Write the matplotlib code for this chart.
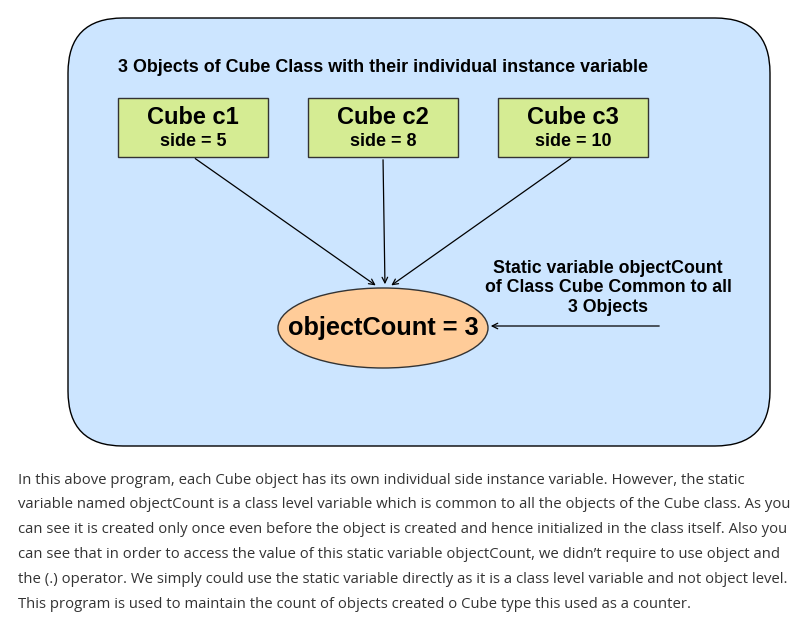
import matplotlib
matplotlib.use("Agg")
import matplotlib.pyplot as plt
from matplotlib.patches import FancyBboxPatch, Ellipse, Rectangle

cube_names = ["Cube c1", "Cube c2", "Cube c3"]
cube_sides = [5, 8, 10]
object_count = 3
title = "3 Objects of Cube Class with their individual instance variable"
static_note = "Static variable objectCount\nof Class Cube Common to all\n3 Objects"
paragraph = [
    "In this above program, each Cube object has its own individual side instance variable. However, the static",
    "variable named objectCount is a class level variable which is common to all the objects of the Cube class. As you",
    "can see it is created only once even before the object is created and hence initialized in the class itself. Also you",
    "can see that in order to access the value of this static variable objectCount, we didn\u2019t require to use object and",
    "the (.) operator. We simply could use the static variable directly as it is a class level variable and not object level.",
    "This program is used to maintain the count of objects created o Cube type this used as a counter.",
]

fig = plt.figure(figsize=(7.99, 6.24), dpi=100)
ax = fig.add_axes([0, 0, 1, 1])
ax.set_xlim(0, 799); ax.set_ylim(624, 0); ax.axis("off")

ax.add_patch(FancyBboxPatch((68 + 55, 18 + 55), 702 - 110, 428 - 110,
             boxstyle="round,pad=55", fc="#cce5ff", ec="black", lw=1))
ax.text(383, 68, title, ha="center", va="center", fontsize=12.9, fontweight="bold",
        family="Liberation Sans")

xs = [118, 308, 498]
for x, n, s in zip(xs, cube_names, cube_sides):
    ax.add_patch(Rectangle((x, 98), 150, 59, fc="#d5ec93", ec="#333333", lw=1))
    ax.text(x + 75, 118, n, ha="center", va="center", fontsize=17, fontweight="bold",
            family="Liberation Sans")
    ax.text(x + 75, 142, f"side = {s}", ha="center", va="center", fontsize=12.9,
            fontweight="bold", family="Liberation Sans")

ax.add_patch(Ellipse((383, 328), 210, 80, fc="#ffcc99", ec="#333333", lw=1))
ax.text(383, 328, f"objectCount = {object_count}", ha="center", va="center",
        fontsize=18.3, fontweight="bold", family="Liberation Sans")

ap = dict(arrowstyle="->", color="black", lw=0.9)
for (x0, x1) in [(193, 378), (383, 385), (573, 389)]:
    ax.annotate("", xy=(x1, 287), xytext=(x0, 157), arrowprops=ap)
ax.annotate("", xy=(488, 326), xytext=(662, 326), arrowprops=ap)

ax.text(608, 288, static_note, ha="center", va="center", fontsize=12.8,
        fontweight="bold", family="Liberation Sans", linespacing=1.2)

for i, line in enumerate(paragraph):
    ax.text(18, 480 + i * 24.8, line, ha="left", va="center", fontsize=10.7,
            color="#333333", family="Open Sans")

fig.savefig("out.png", dpi=100)
